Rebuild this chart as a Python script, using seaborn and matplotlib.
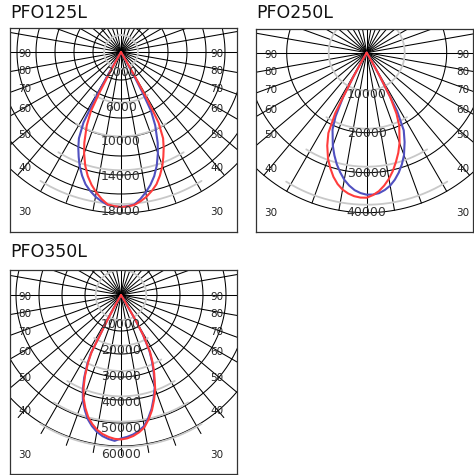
import numpy as np
import matplotlib
matplotlib.use("Agg")
import matplotlib.pyplot as plt
import seaborn as sns

sns.set_style("white")
plt.rcParams['font.family'] = ['DejaVu Sans']

# ---- values ----
titles = ["PFO125L", "PFO250L", "PFO350L"]
angle_labels = [90, 80, 70, 60, 50, 40, 30]

rings_125 = [2000, 6000, 10000, 14000, 18000]
rings_250 = [10000, 20000, 30000, 40000]
rings_350 = [10000, 20000, 30000, 40000, 50000, 60000]

# gamma angle (deg, negative = left of nadir) and intensity (cd)
red_ang_125 = [-30, -29, -28.5, -28, -27, -25, -22, -20, -17.5, -15, -12.5, -10, -7.5, -5, -2.5, 0,
               2.5, 5, 7.5, 10, 12.5, 15, 17.5, 20, 22, 24, 26, 28, 29, 29.5, 30, 31]
red_cd_125 = [0, 1420, 3320, 5330, 7820, 9590, 11600, 12770, 14090, 15210, 16110, 16880, 17560, 18120, 18270, 18350,
              18310, 18180, 17820, 17400, 16850, 16220, 15340, 14330, 13380, 12430, 11370, 9470, 6510, 3550, 1420, 0]
blue_ang_125 = [-31, -30, -29.5, -29, -28, -26, -24, -22, -20, -17.5, -15, -12.5, -10, -7.5, -5, -2.5, 0,
                2.5, 5, 7.5, 10, 12.5, 15, 17.5, 20, 22, 25, 27, 28, 28.5, 29, 30]
blue_cd_125 = [0, 1420, 3550, 6510, 9470, 11370, 12430, 13380, 14330, 15340, 16220, 16850, 17400, 17820, 18180, 18310, 18350,
               18270, 18120, 17560, 16880, 16110, 15210, 14090, 12770, 11600, 9590, 7820, 5330, 3320, 1420, 0]

red_ang_250 = [-31, -30, -29, -28, -27.5, -25.5, -23, -20, -17.5, -15, -12.5, -10, -7.5, -5, -2.5, 0,
               2.5, 5, 7.5, 10, 12.5, 15, 17.5, 20, 24, 26, 28, 29, 30, 31]
red_cd_250 = [0, 2630, 7370, 13160, 17900, 23430, 26580, 29740, 31850, 33820, 35400, 36590, 37370, 37900, 38160, 38160,
              37510, 36590, 35270, 33690, 31850, 29740, 27640, 25270, 21060, 17900, 13160, 7370, 2630, 0]
blue_ang_250 = [-31, -30, -29, -28, -26, -24, -20, -17.5, -15, -12.5, -10, -7.5, -5, -2.5, 0,
                2.5, 5, 7.5, 10, 12.5, 15, 17.5, 20, 23, 25.5, 27.5, 28, 29, 30, 31]
blue_cd_250 = [0, 2630, 7370, 13160, 18690, 22110, 26060, 28290, 30400, 32240, 33950, 35270, 36320, 36980, 37370,
               37370, 37110, 36450, 35530, 34220, 32640, 30790, 28690, 25530, 22640, 17370, 12900, 7110, 2630, 0]

ang_350 = [-30.5, -29.5, -28.5, -27.7, -27.3, -26, -24, -22, -20, -17.5, -15, -12.5, -10, -7.5, -5, -2.5, 0,
           2.5, 5, 7.5, 10, 12.5, 15, 17.5, 20, 23, 25, 27, 29, 30, 31, 32]
red_cd_350 = [0, 3950, 11050, 17760, 25260, 29600, 34930, 39470, 43220, 46770, 49930, 52220, 54070, 55380, 56250, 56840, 57030,
              56640, 55850, 54670, 53090, 50320, 47170, 43420, 39470, 33550, 29600, 25260, 18160, 11840, 3950, 0]
blue_cd_350 = [0, 4740, 11840, 18550, 26050, 30390, 35720, 40260, 44010, 47560, 50720, 53010, 54860, 56170, 57040, 57630, 56640,
               56050, 55260, 54080, 52500, 49730, 46580, 42830, 38880, 32960, 29010, 24670, 17570, 11250, 3360, 0]

W, H = 474, 475
RED = '#ff3c3c'
BLUE = '#5050c0'


def draw_panel(fig, title, rings, red, blue, box, centre, grid_r, title_y):
    """one photometric polar diagram in a pixel box"""
    x0, y0, x1, y1 = box
    cx, cy = centre
    k = max(rings) / 152.0  # cd per pixel
    ax = fig.add_axes([x0 / W, 1 - y1 / H, (x1 - x0) / W, (y1 - y0) / H])
    ax.set_xlim((x0 - cx) * k, (x1 - cx) * k)
    ax.set_ylim(-(y1 - cy) * k, (cy - y0) * k)
    ax.set_xticks([])
    ax.set_yticks([])
    for s in ax.spines.values():
        s.set_color('#333333')
        s.set_linewidth(0.9)

    # black angle grid
    outer = 160 * k
    for a in range(0, 360, 10):
        t = np.radians(a)
        ax.plot([0, outer * np.sin(t)], [0, -outer * np.cos(t)],
                color='black', lw=0.75, zorder=1)
    t = np.linspace(0, 2 * np.pi, 400)
    for r in grid_r:
        ax.plot(r * k * np.sin(t), r * k * np.cos(t), color='black', lw=0.75, zorder=1)

    # grey intensity rings: first one whole, the others only round the nadir
    for i, v in enumerate(rings):
        span = np.pi if i == 0 else np.radians(32)
        tt = np.linspace(-span, span, 200)
        ax.plot(v * np.sin(tt), -v * np.cos(tt), color='#c8c8c8', lw=1.3, zorder=2)

    # curves
    for (ang, cd), col in ((blue, BLUE), (red, RED)):
        th = np.radians(np.array(ang))
        cd = np.array(cd, dtype=float)
        sns.lineplot(x=cd * np.sin(th), y=-cd * np.cos(th), sort=False, estimator=None,
                     color=col, lw=1.5, ax=ax, zorder=3)

    # ring labels
    for v in rings:
        ax.text(0, -(v * 1.03 + 3 * k), str(v), ha='center', va='center',
                fontsize=9, color='#333333', zorder=5)

    # angle labels
    for a in angle_labels:
        dy = 0 if a == 90 else min(96 / np.tan(np.radians(a)), 158)
        for sx in (-1, 1):
            ax.text(sx * 96 * k, -(dy + 2) * k, str(a), ha='center', va='center',
                    fontsize=7.5, color='#222222', zorder=5)

    fig.text(x0 / W, 1 - title_y / H, title, ha='left', va='center',
             fontsize=12.5, color='#111111')


fig = plt.figure(figsize=(W / 100, H / 100), dpi=100)
draw_panel(fig, titles[0], rings_125, (red_ang_125, red_cd_125), (blue_ang_125, blue_cd_125),
           (10, 28, 237, 232), (121, 52), [28, 47, 66, 85, 104, 123, 142, 161], 13)
draw_panel(fig, titles[1], rings_250, (red_ang_250, red_cd_250), (blue_ang_250, blue_cd_250),
           (256, 29, 473, 232), (366.7, 52.7), [80, 120, 160], 13.5)
draw_panel(fig, titles[2], rings_350, (ang_350, red_cd_350), (ang_350, blue_cd_350),
           (10, 270, 237, 474), (121, 295), [36, 59, 82, 105, 128, 151], 252)
fig.savefig('out.png', dpi=100)
